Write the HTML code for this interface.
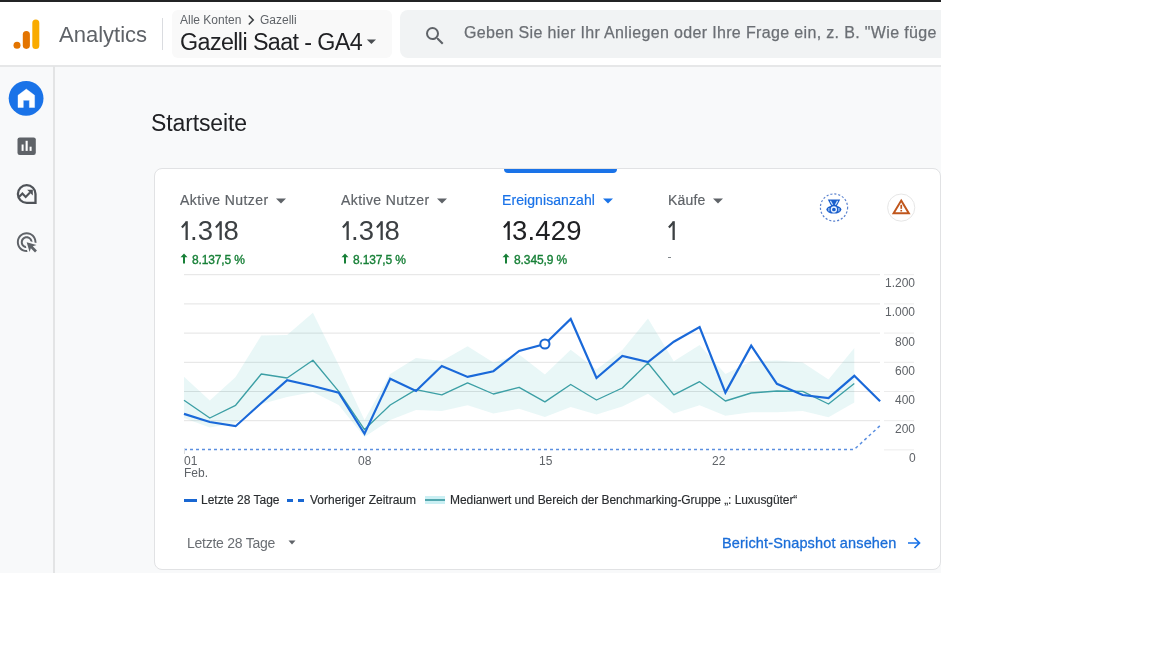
<!DOCTYPE html>
<html><head><meta charset="utf-8">
<style>
*{box-sizing:border-box;margin:0;padding:0}
html,body{width:1152px;height:648px;background:#fff;overflow:hidden;font-family:"Liberation Sans",sans-serif}
#shot{position:absolute;left:0;top:0;width:941px;height:573px;overflow:hidden;background:#f8f9fa}
.abs{position:absolute;white-space:nowrap;will-change:transform}
#topbar{position:absolute;left:0;top:0;width:941px;height:2px;background:#232425}
#header{position:absolute;left:0;top:2px;width:941px;height:63px;background:#fff}
#hline{position:absolute;left:0;top:65px;width:941px;height:2px;background:#e6e7e8}
#vline{position:absolute;left:53px;top:66px;width:2px;height:507px;background:#e3e4e5}
#acct{position:absolute;left:172px;top:10px;width:220px;height:48px;background:#f9f9f9;border-radius:6px}
#search{position:absolute;left:400px;top:10px;width:560px;height:48px;background:#f1f3f4;border-radius:8px}
#card{position:absolute;left:154px;top:168px;width:787px;height:402px;background:#fff;border:1px solid #e1e2e4;border-radius:8px}
#tab{position:absolute;left:504px;top:169px;width:113px;height:4px;background:#1a73e8;border-radius:0 0 4px 4px}
.lbl{font-size:14px;color:#5f6368;-webkit-text-stroke-width:0.2px}
.val{font-size:27.5px;color:#3c4043}
.one{display:inline-block;vertical-align:baseline}
.pct{font-size:12px;color:#188038;-webkit-text-stroke-width:0.35px}
.axis{font-size:12px;color:#5f6368}
.leg{font-size:12px;color:#2a2d30;-webkit-text-stroke-width:0.15px}
</style></head><body>
<div id="shot">
  <div id="topbar"></div>
  <div id="header"></div>
  <div id="hline"></div>
  <div id="vline"></div>

  <!-- logo -->
  <svg class="abs" style="left:12px;top:18px" width="30" height="32" viewBox="0 0 30 32">
    <circle cx="5" cy="27.3" r="3.5" fill="#e37400"/>
    <rect x="10.8" y="12.9" width="7.1" height="18" rx="3.55" fill="#e37400"/>
    <rect x="20.3" y="1.5" width="7" height="29.4" rx="3.5" fill="#f9ab00"/>
  </svg>
  <div id="analytics" class="abs" style="left:59px;top:21.5px;font-size:22px;color:#5f6368">Analytics</div>
  <div class="abs" style="left:162px;top:18px;width:1px;height:32px;background:#dadce0"></div>

  <div id="acct"></div>
  <div id="crumb" class="abs" style="left:180px;top:13px;font-size:12px;color:#5f6368">Alle Konten</div>
  <svg class="abs" style="left:246px;top:14px" width="10" height="12" viewBox="0 0 10 12"><path d="M2.8 1.5 L7.2 6 L2.8 10.5" fill="none" stroke="#3c4043" stroke-width="1.6"/></svg>
  <div id="crumb2" class="abs" style="left:259.5px;top:13px;font-size:12px;color:#5f6368">Gazelli</div>
  <div id="acctname" class="abs" style="left:180px;top:28.5px;font-size:23.3px;letter-spacing:-0.6px;color:#202124">Gazelli Saat - GA4</div>
  <svg class="abs" style="left:365.5px;top:38px" width="12" height="8"><path d="M0.8 1.4 L10 1.4 L5.4 6 Z" fill="#4a4e52"/></svg>

  <div id="search"></div>
  <svg class="abs" style="left:423.3px;top:23.8px" width="24" height="24" viewBox="0 0 24 24"><path fill="#5f6368" d="M15.5 14h-.79l-.28-.27A6.471 6.471 0 0 0 16 9.5 6.5 6.5 0 1 0 9.5 16c1.61 0 3.09-.59 4.23-1.57l.27.28v.79l5 4.99L20.49 19l-4.99-5zm-6 0C7.01 14 5 11.99 5 9.5S7.01 5 9.5 5 14 7.01 14 9.5 11.99 14 9.5 14z"/></svg>
  <div id="stext" class="abs" style="left:464px;top:24px;font-size:16px;letter-spacing:0.35px;color:#6b6f74;-webkit-text-stroke-width:0.25px">Geben Sie hier Ihr Anliegen oder Ihre Frage ein, z. B. "Wie füge</div>

  <!-- sidebar -->
  <svg class="abs" style="left:0;top:66px" width="54" height="200" viewBox="0 66 54 200">
    <circle cx="26.1" cy="98.3" r="17.4" fill="#1a73e8"/>
    <path d="M18 95.3 L26.3 89.1 L34.6 95.3 L34.6 107.5 L29.4 107.5 L29.4 100.3 L23.3 100.3 L23.3 107.5 L18 107.5 Z" fill="#fff" stroke="#fff" stroke-width="0.4" stroke-linejoin="round"/>
    <rect x="17.5" y="137.4" width="18.3" height="17.5" rx="2.2" fill="#5f6368"/>
    <rect x="21.6" y="144.5" width="2" height="6.4" fill="#fff"/>
    <rect x="25.6" y="140.8" width="2.1" height="10.1" fill="#fff"/>
    <rect x="29.6" y="146.7" width="2" height="4.2" fill="#fff"/>
    <path d="M35.5 202.8 L26.7 202.8 A8.8 8.8 0 1 1 35.5 194 Z" fill="none" stroke="#4f5358" stroke-width="2.3" stroke-linejoin="miter"/>
    <polyline points="19,197 22.4,193.6 25.7,197 30,192.6" fill="none" stroke="#4f5358" stroke-width="2.1" stroke-linejoin="miter"/>
    <path d="M27.2 189.8 L32.8 189.8 L32.8 195.4 Z" fill="#4f5358"/>
    <g transform="translate(14.9 230.4) scale(0.98)"><path fill="#5f6368" d="M11.71,17.99C8.53,17.84,6,15.22,6,12c0-3.31,2.690-6,6-6c3.22,0,5.84,2.53,5.99,5.71l-2.1-0.63C15.48,9.31,13.89,8,12,8 c-2.21,0-4,1.790-4,4c0,1.89,1.31,3.48,3.08,3.89L11.71,17.99z M22,12c0,0.3-0.01,0.6-0.04,0.9l-1.97-0.59C20,12.21,20,12.1,20,12 c0-4.42-3.58-8-8-8s-8,3.58-8,8s3.58,8,8,8c0.1,0,0.21,0,0.31-0.01l0.59,1.97C12.6,21.99,12.3,22,12,22C6.480,22,2,17.52,2,12 C2,6.48,6.48,2,12,2S22,6.48,22,12z M18.23,16.26L22,15l-10-3l3,10l1.26-3.77l4.27,4.27l1.970-1.97L18.23,16.26z"/></g>
  </svg>

  <div id="main" class="abs" style="left:151px;top:110.2px;letter-spacing:-0.12px;font-size:23px;color:#202124">Startseite</div>

  <div id="card"></div>
  <div id="tab"></div>

  <!-- metrics -->
  <div id="l1" class="abs lbl" style="left:180px;top:192.2px;letter-spacing:0.4px">Aktive Nutzer</div>
  <svg class="abs" style="left:275px;top:197px" width="12" height="8"><path d="M1 1.5 L11 1.5 L6 6.5 Z" fill="#5f6368"/></svg>
  <div id="v1" class="abs val" style="left:180.5px;top:215px"><svg class="one" width="9" height="19" viewBox="0 0 9 19"><path d="M0.9 6.4 L5.6 1.3" stroke="currentColor" stroke-width="2.2" stroke-linecap="butt" fill="none"/><rect x="4.5" y="0.2" width="2.3" height="18.8" fill="currentColor"/></svg>.3<svg class="one" style="margin-left:1.6px" width="9" height="19" viewBox="0 0 9 19"><path d="M0.9 6.4 L5.6 1.3" stroke="currentColor" stroke-width="2.2" stroke-linecap="butt" fill="none"/><rect x="4.5" y="0.2" width="2.3" height="18.8" fill="currentColor"/></svg>8</div>
  <svg class="abs" style="left:180px;top:253px" width="8" height="11" viewBox="0 0 8 11"><path d="M4 0.5 L7.5 4.2 L5 4.2 L5 10.5 L3 10.5 L3 4.2 L0.5 4.2 Z" fill="#188038"/></svg>
  <div id="p1" class="abs pct" style="left:192px;top:253px;letter-spacing:-0.15px">8.137,5 %</div>

  <div id="l2" class="abs lbl" style="left:341px;top:192.2px;letter-spacing:0.4px">Aktive Nutzer</div>
  <svg class="abs" style="left:436px;top:197px" width="12" height="8"><path d="M1 1.5 L11 1.5 L6 6.5 Z" fill="#5f6368"/></svg>
  <div id="v2" class="abs val" style="left:341.5px;top:215px"><svg class="one" width="9" height="19" viewBox="0 0 9 19"><path d="M0.9 6.4 L5.6 1.3" stroke="currentColor" stroke-width="2.2" stroke-linecap="butt" fill="none"/><rect x="4.5" y="0.2" width="2.3" height="18.8" fill="currentColor"/></svg>.3<svg class="one" style="margin-left:1.6px" width="9" height="19" viewBox="0 0 9 19"><path d="M0.9 6.4 L5.6 1.3" stroke="currentColor" stroke-width="2.2" stroke-linecap="butt" fill="none"/><rect x="4.5" y="0.2" width="2.3" height="18.8" fill="currentColor"/></svg>8</div>
  <svg class="abs" style="left:341px;top:253px" width="8" height="11" viewBox="0 0 8 11"><path d="M4 0.5 L7.5 4.2 L5 4.2 L5 10.5 L3 10.5 L3 4.2 L0.5 4.2 Z" fill="#188038"/></svg>
  <div id="p2" class="abs pct" style="left:353px;top:253px;letter-spacing:-0.15px">8.137,5 %</div>

  <div id="l3" class="abs lbl" style="left:502px;top:192.2px;letter-spacing:0.08px;color:#1a73e8">Ereignisanzahl</div>
  <svg class="abs" style="left:602px;top:197px" width="12" height="8"><path d="M1 1.5 L11 1.5 L6 6.5 Z" fill="#1a73e8"/></svg>
  <div id="v3" class="abs val" style="left:503px;top:215px;letter-spacing:0.2px;color:#202124"><svg class="one" width="9" height="19" viewBox="0 0 9 19"><path d="M0.9 6.4 L5.6 1.3" stroke="currentColor" stroke-width="2.2" stroke-linecap="butt" fill="none"/><rect x="4.5" y="0.2" width="2.3" height="18.8" fill="currentColor"/></svg>3.429</div>
  <svg class="abs" style="left:502px;top:253px" width="8" height="11" viewBox="0 0 8 11"><path d="M4 0.5 L7.5 4.2 L5 4.2 L5 10.5 L3 10.5 L3 4.2 L0.5 4.2 Z" fill="#188038"/></svg>
  <div id="p3" class="abs pct" style="left:514px;top:253px;letter-spacing:-0.1px">8.345,9 %</div>

  <div id="l4" class="abs lbl" style="left:668px;top:192.2px;letter-spacing:0.2px">Käufe</div>
  <svg class="abs" style="left:712px;top:197px" width="12" height="8"><path d="M1 1.5 L11 1.5 L6 6.5 Z" fill="#5f6368"/></svg>
  <div id="v4" class="abs val" style="left:668px;top:215px"><svg class="one" width="9" height="19" viewBox="0 0 9 19"><path d="M0.9 6.4 L5.6 1.3" stroke="currentColor" stroke-width="2.2" stroke-linecap="butt" fill="none"/><rect x="4.5" y="0.2" width="2.3" height="18.8" fill="currentColor"/></svg></div>
  <div class="abs" style="left:668px;top:257px;width:3px;height:1px;background:#80868b"></div>

  <!-- chart -->
  <svg class="abs" style="left:0;top:0" width="941" height="573" viewBox="0 0 941 573">
  <line x1="184" y1="274.7" x2="880" y2="274.7" stroke="#e3e3e3" stroke-width="1"/>
  <line x1="184" y1="303.9" x2="880" y2="303.9" stroke="#e3e3e3" stroke-width="1"/>
  <line x1="184" y1="333.1" x2="880" y2="333.1" stroke="#e3e3e3" stroke-width="1"/>
  <line x1="184" y1="362.3" x2="880" y2="362.3" stroke="#e3e3e3" stroke-width="1"/>
  <line x1="184" y1="391.5" x2="880" y2="391.5" stroke="#e3e3e3" stroke-width="1"/>
  <line x1="184" y1="420.7" x2="880" y2="420.7" stroke="#e3e3e3" stroke-width="1"/>
  <line x1="884" y1="274.7" x2="914" y2="274.7" stroke="#ececec" stroke-width="1"/>
  <line x1="884" y1="303.9" x2="914" y2="303.9" stroke="#ececec" stroke-width="1"/>
  <line x1="884" y1="333.1" x2="914" y2="333.1" stroke="#ececec" stroke-width="1"/>
  <line x1="884" y1="362.3" x2="914" y2="362.3" stroke="#ececec" stroke-width="1"/>
  <line x1="884" y1="391.5" x2="914" y2="391.5" stroke="#ececec" stroke-width="1"/>
  <line x1="884" y1="420.7" x2="914" y2="420.7" stroke="#ececec" stroke-width="1"/>
  <line x1="884" y1="449.9" x2="914" y2="449.9" stroke="#ececec" stroke-width="1"/>
  <polygon points="184.0,376.7 209.8,400.4 235.6,377.0 261.3,335.6 287.1,335.0 312.9,312.7 338.7,365.0 364.5,420.0 390.2,374.0 416.0,358.0 441.8,361.0 467.6,346.3 493.4,362.5 519.1,354.4 544.9,374.5 570.7,349.8 596.5,369.4 622.3,350.0 648.0,318.5 673.8,361.3 699.6,345.0 725.4,374.0 751.2,361.3 776.9,360.6 802.7,362.5 828.5,379.5 854.3,348.1 854.3,402.5 828.5,417.3 802.7,411.0 776.9,412.3 751.2,412.3 725.4,415.7 699.6,405.3 673.8,413.4 648.0,393.8 622.3,406.5 596.5,414.6 570.7,407.0 544.9,417.0 519.1,408.8 493.4,413.4 467.6,405.3 441.8,411.0 416.0,410.0 390.2,420.0 364.5,437.0 338.7,405.0 312.9,392.0 287.1,397.0 261.3,404.0 235.6,423.0 209.8,427.4 184.0,418.0" fill="#0aa5a5" fill-opacity="0.09"/>
  <polyline points="184.0,400.2 209.8,418.0 235.6,405.3 261.3,374.0 287.1,378.0 312.9,360.2 338.7,391.4 364.5,429.6 390.2,405.0 416.0,389.6 441.8,394.9 467.6,382.9 493.4,394.0 519.1,387.3 544.9,401.9 570.7,384.5 596.5,400.0 622.3,388.0 648.0,363.0 673.8,394.9 699.6,381.7 725.4,401.0 751.2,393.0 776.9,391.0 802.7,391.4 828.5,404.0 854.3,383.5" fill="none" stroke="#3c9fa5" stroke-width="1.35" stroke-linejoin="round"/>
  <polyline points="184,449.4 854.3,449.4 880,425.7" fill="none" stroke="#5b8fe0" stroke-width="1.5" stroke-dasharray="3 3"/>
  <line x1="184.5" y1="449" x2="184.5" y2="454" stroke="#dadce0" stroke-width="1"/>
  <polyline points="184.0,413.9 209.8,422.0 235.6,426.2 261.3,403.0 287.1,380.1 312.9,386.0 338.7,392.6 364.5,433.8 390.2,378.7 416.0,391.0 441.8,366.0 467.6,376.9 493.4,371.2 519.1,350.9 544.9,344.0 570.7,319.0 596.5,378.0 622.3,356.0 648.0,362.0 673.8,341.7 699.6,327.1 725.4,392.6 751.2,345.6 776.9,383.8 802.7,395.0 828.5,398.0 854.3,375.8 880.1,401.2" fill="none" stroke="#1a69d9" stroke-width="2.2" stroke-linejoin="miter"/>
  <circle cx="544.9" cy="344" r="4.6" fill="#fff" stroke="#1967d2" stroke-width="2"/>
  </svg>
  <div class="abs axis ylab" style="right:25.5px;top:276.1px">1.200</div><div class="abs axis ylab" style="right:25.5px;top:305.3px">1.000</div><div class="abs axis ylab" style="right:25.5px;top:334.5px">800</div><div class="abs axis ylab" style="right:25.5px;top:363.7px">600</div><div class="abs axis ylab" style="right:25.5px;top:392.9px">400</div><div class="abs axis ylab" style="right:25.5px;top:422.1px">200</div><div class="abs axis ylab" style="right:25.5px;top:451.3px">0</div>
  <div id="x01" class="abs axis" style="left:184px;top:454.7px;line-height:12px">01<br>Feb.</div>
  <div id="x08" class="abs axis" style="left:358px;top:453.5px">08</div>
  <div id="x15" class="abs axis" style="left:539px;top:453.5px">15</div>
  <div id="x22" class="abs axis" style="left:712px;top:453.5px">22</div>
  <div class="abs" style="left:184px;top:499px;width:13px;height:2.5px;background:#1967d2"></div>
  <div id="lg1" class="abs leg" style="left:201px;top:493px">Letzte 28 Tage</div>
  <div class="abs" style="left:287px;top:499px;width:5.5px;height:2.5px;background:#1967d2"></div>
  <div class="abs" style="left:298px;top:499px;width:5.5px;height:2.5px;background:#1967d2"></div>
  <div id="lg2" class="abs leg" style="left:310px;top:493px">Vorheriger Zeitraum</div>
  <div class="abs" style="left:425px;top:496px;width:20px;height:8px;background:#cbeff3"></div>
  <div class="abs" style="left:425px;top:499px;width:20px;height:2px;background:#52a7ae"></div>
  <div id="lg3" class="abs leg" style="left:450px;top:493px;letter-spacing:-0.07px">Medianwert und Bereich der Benchmarking-Gruppe „: Luxusgüter“</div>

  <div id="range" class="abs" style="left:187px;top:534.5px;letter-spacing:-0.25px;font-size:14px;color:#6a6e73">Letzte 28 Tage</div>
  <svg class="abs" style="left:286px;top:539px" width="12" height="8"><path d="M2.5 1.5 L9.5 1.5 L6 5.5 Z" fill="#5f6368"/></svg>
  <div id="snap" class="abs" style="left:722px;top:535px;letter-spacing:0.15px;font-size:14.5px;color:#1a6dd8;-webkit-text-stroke-width:0.3px">Bericht-Snapshot ansehen</div>
  <svg class="abs" style="left:906px;top:535px" width="16" height="16" viewBox="0 0 16 16"><path d="M2 8 H13.5 M8.5 3 L13.5 8 L8.5 13" fill="none" stroke="#1a73e8" stroke-width="1.7"/></svg>

  <!-- badge icons -->
  <svg class="abs" style="left:818px;top:191px" width="32" height="32" viewBox="0 0 32 32">
    <circle cx="16" cy="16.5" r="13.6" fill="none" stroke="#5a82cf" stroke-width="1.2" stroke-dasharray="2.1 1.9"/>
    <path d="M9.8 8.4 H22.2 L18.8 15 H13.2 Z" fill="#1b5fcc"/>
    <path d="M12.4 9.9 L14.6 13.7 M19.6 9.9 L17.4 13.7" stroke="#cfe6ff" stroke-width="1.2" fill="none"/>
    <ellipse cx="15.9" cy="18.6" rx="7.5" ry="4" fill="#1b5fcc"/>
    <circle cx="15.9" cy="18.5" r="2.5" fill="none" stroke="#e8f2ff" stroke-width="1.3"/>
    <path d="M10.9 17 V20.3 M20.9 17 V20.3" stroke="#cfe6ff" stroke-width="0.9" fill="none"/>
  </svg>
  <svg class="abs" style="left:885px;top:191px" width="32" height="32" viewBox="0 0 32 32">
    <circle cx="16.2" cy="16.6" r="13.6" fill="#fff" stroke="#e6e6e6" stroke-width="1"/>
    <path d="M16.2 9.6 L23.8 22.3 L8.6 22.3 Z" fill="none" stroke="#c0561c" stroke-width="2" stroke-linejoin="miter"/>
    <rect x="15.4" y="13.8" width="1.7" height="4" fill="#c0561c"/>
    <rect x="15.4" y="18.9" width="1.7" height="1.6" fill="#c0561c"/>
  </svg>
</div>
</body></html>
